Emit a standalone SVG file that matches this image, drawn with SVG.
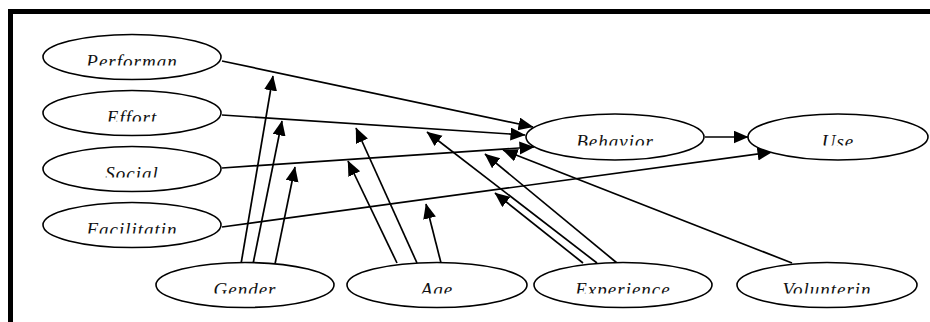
<svg xmlns="http://www.w3.org/2000/svg" width="930" height="322" viewBox="0 0 930 322">
  <style>
    .node ellipse { fill: #ffffff; stroke: #000000; stroke-width: 1.6; }
    .node text { font-family: "Liberation Serif", "Times New Roman", serif; font-style: italic; font-size: 19px; letter-spacing: 1px; text-anchor: middle; fill: #111111; clip-path: url(#cut); }
    .edge { fill: none; stroke: #000000; stroke-width: 1.7; marker-end: url(#arrow); }
    .frame { fill: none; stroke: #000000; stroke-width: 5; }
  </style>
  <defs>
    <marker id="arrow" markerUnits="userSpaceOnUse" markerWidth="16" markerHeight="14" refX="14.5" refY="6.5" orient="auto">
      <path d="M0,0 L15,6.5 L0,13 Z" fill="#000000"/>
    </marker>
    <clipPath id="cut" clipPathUnits="objectBoundingBox">
      <rect x="-0.2" y="-0.2" width="1.4" height="0.91"/>
    </clipPath>
  </defs>
  <rect width="930" height="322" fill="#ffffff"/>
  <path class="frame" d="M10.5,340 V11.5 H950"/>

  <g id="connectors">
    <path class="edge" d="M222,61 L533,127"/>
    <path class="edge" d="M222,115 L525,135"/>
    <path class="edge" d="M222,168 L534,147"/>
    <path class="edge" d="M222,227 L772,152"/>
    <path class="edge" d="M705,137 L748,137"/>
    <path class="edge" d="M241,264 L273,76"/>
    <path class="edge" d="M253,264 L282,121"/>
    <path class="edge" d="M275,264 L295,167"/>
    <path class="edge" d="M397,263 L348,161"/>
    <path class="edge" d="M417,263 L356,128"/>
    <path class="edge" d="M441,263 L426,204"/>
    <path class="edge" d="M583,263 L495,193"/>
    <path class="edge" d="M597,263 L427,132"/>
    <path class="edge" d="M617,263 L485,154"/>
    <path class="edge" d="M792,263 L503,150"/>
  </g>

  <g id="performance" class="node">
    <ellipse cx="132" cy="57" rx="89" ry="22.5"/>
    <text x="132" y="67.5">Performan</text>
  </g>
  <g id="effort" class="node">
    <ellipse cx="132" cy="113" rx="89" ry="22.5"/>
    <text x="132" y="123.5">Effort</text>
  </g>
  <g id="social" class="node">
    <ellipse cx="132" cy="169" rx="89" ry="22.5"/>
    <text x="132" y="179.5">Social</text>
  </g>
  <g id="facilitating" class="node">
    <ellipse cx="132" cy="225" rx="89" ry="22.5"/>
    <text x="132" y="235.5">Facilitatin</text>
  </g>
  <g id="behavior" class="node">
    <ellipse cx="615" cy="137" rx="89" ry="23"/>
    <text x="615" y="147.5">Behavior</text>
  </g>
  <g id="use" class="node">
    <ellipse cx="838" cy="137" rx="90" ry="23"/>
    <text x="838" y="147.5">Use</text>
  </g>
  <g id="gender" class="node">
    <ellipse cx="245" cy="285" rx="89" ry="22.5"/>
    <text x="245" y="295.5">Gender</text>
  </g>
  <g id="age" class="node">
    <ellipse cx="437" cy="285" rx="90" ry="22.5"/>
    <text x="437" y="295.5">Age</text>
  </g>
  <g id="experience" class="node">
    <ellipse cx="623" cy="285" rx="89" ry="22.5"/>
    <text x="623" y="295.5">Experience</text>
  </g>
  <g id="voluntariness" class="node">
    <ellipse cx="827" cy="285" rx="90" ry="22.5"/>
    <text x="827" y="295.5">Volunterin</text>
  </g>
</svg>
